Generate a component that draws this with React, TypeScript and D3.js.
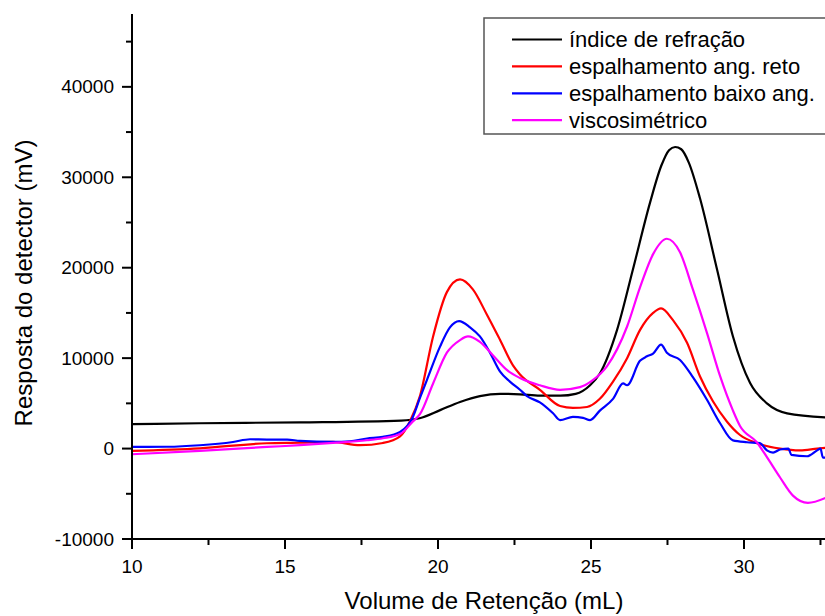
import React, { useEffect, useRef } from 'react'
import * as d3 from 'd3'

// [volume (mL), resposta (mV)]
const indiceRefracao: [number, number][] = [
  [10, 2700], [12.2, 2800], [15.5, 2900], [18.8, 3100], [19.4, 3350], [20.07, 4250],
  [20.72, 5150], [21.37, 5800], [22.03, 6050], [22.68, 6000], [23.33, 5850], [24.0, 5850],
  [24.5, 6050], [24.97, 7000], [25.29, 8300], [25.85, 13100], [26.37, 19800], [26.93, 27200],
  [27.3, 31300], [27.55, 33000], [27.75, 33350], [27.95, 33100], [28.2, 31600], [28.56, 27700],
  [29.12, 19800], [29.64, 12400], [30.2, 7250], [30.75, 5000], [31.41, 3900], [32.7, 3450],
]

const espalhamentoReto: [number, number][] = [
  [10.0, -250], [12.22, 30], [14.41, 590], [15.49, 650], [16.57, 730], [17.45, 370],
  [18.2, 620], [18.76, 1350], [19.08, 3000], [19.41, 5800], [19.84, 12400], [20.29, 17300],
  [20.72, 18700], [21.14, 17600], [21.6, 14800], [22.03, 12000], [22.45, 9200], [22.68, 8200],
  [23.33, 6500], [23.99, 4700], [24.41, 4500], [24.87, 4600], [25.29, 5500], [25.72, 7400],
  [26.18, 10000], [26.6, 13100], [27.03, 15000], [27.29, 15500], [27.68, 14200], [28.14, 11700],
  [28.56, 8000], [28.99, 5200], [29.44, 3000], [29.87, 1500], [30.42, 600], [31.18, 0],
  [31.83, -200], [32.39, 0], [32.7, 100],
]

const espalhamentoBaixo: [number, number][] = [
  [10.0, 180], [11.14, 200], [12.22, 370], [13.3, 730], [13.86, 1030], [14.41, 1000],
  [15.07, 1000], [15.49, 840], [16.57, 730], [17.12, 810], [17.68, 1110], [18.2, 1290],
  [18.76, 1840], [19.18, 3500], [19.41, 5600], [19.64, 7600], [20.07, 11300], [20.39, 13400],
  [20.69, 14100], [21.05, 13400], [21.37, 12400], [21.7, 10600], [22.03, 8500], [22.35, 7400],
  [22.68, 6500], [22.91, 5800], [23.33, 5100], [23.76, 3900], [23.99, 3150], [24.41, 3500],
  [24.74, 3400], [24.97, 3150], [25.29, 4200], [25.72, 5500], [26.05, 7200], [26.18, 7000],
  [26.6, 9700], [26.83, 10200], [27.03, 10500], [27.29, 11500], [27.48, 10600], [27.91, 9800],
  [28.33, 7900], [28.79, 5400], [29.22, 2800], [29.64, 900], [30.1, 700], [30.52, 600],
  [30.75, -200], [30.95, -450], [31.18, -100], [31.45, 0], [31.55, -700], [32.06, -850],
  [32.39, -200], [32.5, 0], [32.58, -1000], [32.7, -1000],
]

const viscosimetrico: [number, number][] = [
  [10.0, -630], [12.22, -260], [14.41, 180], [15.49, 370], [16.57, 620], [17.68, 920],
  [18.2, 1140], [18.76, 1600], [19.18, 3000], [19.41, 3800], [19.84, 7200], [20.29, 10600],
  [20.72, 12000], [20.98, 12400], [21.37, 11800], [21.8, 10300], [22.25, 8700], [22.68, 7800],
  [23.33, 7000], [23.99, 6500], [24.64, 6800], [25.07, 7600], [25.52, 9100], [26.18, 13500],
  [26.6, 17800], [27.03, 21500], [27.48, 23200], [27.91, 21700], [28.33, 17600], [28.79, 12800],
  [29.22, 8000], [29.64, 4200], [29.87, 2500], [30.42, 700], [30.75, -950], [31.18, -3200],
  [31.6, -5200], [32.09, -6000], [32.7, -5400],
]

const seriesNames = ['índice de refração', 'espalhamento ang. reto', 'espalhamento baixo ang.', 'viscosimétrico']
const seriesColors = ['#000000', '#ff0000', '#0000ff', '#ff00ff']
const xTicks = [10, 15, 20, 25, 30]
const xMinorTicks = [12.5, 17.5, 22.5, 27.5, 32.5]
const yTicks = [-10000, 0, 10000, 20000, 30000, 40000]
const yMinorTicks = [-5000, 5000, 15000, 25000, 35000, 45000]

const w = 825
const h = 616

export default function App() {
  const ref = useRef<SVGSVGElement>(null)

  useEffect(() => {
    const svg = d3.select(ref.current)
    const font = 'Liberation Sans, Arial, sans-serif'

    const x = d3.scaleLinear().domain([10, 32.7]).range([132, 826.6])
    const y = d3.scaleLinear().domain([-10000, 48000]).range([539, 14.5])

    svg.append('defs').append('clipPath').attr('id', 'plotclip')
      .append('rect').attr('x', 132).attr('y', 10).attr('width', 700).attr('height', 529)

    // lines
    const line = d3.line<[number, number]>()
      .x(d => x(d[0]))
      .y(d => y(d[1]))
      .curve(d3.curveMonotoneX)

    const allSeries = [indiceRefracao, espalhamentoReto, espalhamentoBaixo, viscosimetrico]
    const g = svg.append('g').attr('clip-path', 'url(#plotclip)')
    allSeries.forEach((s, i) => {
      g.append('path')
        .datum(s)
        .attr('d', line)
        .attr('fill', 'none')
        .attr('stroke', seriesColors[i])
        .attr('stroke-width', 2.2)
        .attr('stroke-linejoin', 'round')
    })

    // x axis
    svg.append('line')
      .attr('x1', 131).attr('x2', 825).attr('y1', y(-10000)).attr('y2', y(-10000))
      .attr('stroke', '#000').attr('stroke-width', 2)
    xTicks.forEach(t => {
      svg.append('line').attr('x1', x(t)).attr('x2', x(t))
        .attr('y1', y(-10000)).attr('y2', y(-10000) + 10)
        .attr('stroke', '#000').attr('stroke-width', 2)
      svg.append('text').attr('x', x(t)).attr('y', 573)
        .attr('text-anchor', 'middle').attr('font-family', font).attr('font-size', 19)
        .text(t)
    })
    xMinorTicks.forEach(t => {
      svg.append('line').attr('x1', x(t)).attr('x2', x(t))
        .attr('y1', y(-10000)).attr('y2', y(-10000) + 6)
        .attr('stroke', '#000').attr('stroke-width', 2)
    })

    // y axis
    svg.append('line')
      .attr('x1', 132).attr('x2', 132).attr('y1', 14).attr('y2', y(-10000) + 1)
      .attr('stroke', '#000').attr('stroke-width', 2)
    yTicks.forEach(t => {
      svg.append('line').attr('x1', 122).attr('x2', 132)
        .attr('y1', y(t)).attr('y2', y(t))
        .attr('stroke', '#000').attr('stroke-width', 2)
      svg.append('text').attr('x', 114).attr('y', y(t) + 6.5)
        .attr('text-anchor', 'end').attr('font-family', font).attr('font-size', 19)
        .text(t)
    })
    yMinorTicks.forEach(t => {
      svg.append('line').attr('x1', 126).attr('x2', 132)
        .attr('y1', y(t)).attr('y2', y(t))
        .attr('stroke', '#000').attr('stroke-width', 2)
    })

    // axis titles
    svg.append('text').attr('x', 484).attr('y', 609)
      .attr('text-anchor', 'middle').attr('font-family', font).attr('font-size', 24)
      .text('Volume de Retenção (mL)')
    svg.append('text')
      .attr('transform', 'translate(32, 283) rotate(-90)')
      .attr('text-anchor', 'middle').attr('font-family', font).attr('font-size', 24)
      .text('Resposta do detector (mV)')

    // legend
    const legend = svg.append('g')
    legend.append('rect')
      .attr('x', 484).attr('y', 18).attr('width', 360).attr('height', 116)
      .attr('fill', '#fff').attr('stroke', '#555').attr('stroke-width', 1.5)
    seriesNames.forEach((name, i) => {
      const ly = 39.5 + i * 26.9
      legend.append('line').attr('x1', 512).attr('x2', 562).attr('y1', ly).attr('y2', ly)
        .attr('stroke', seriesColors[i]).attr('stroke-width', 2.2)
      legend.append('text').attr('x', 569).attr('y', ly + 7.5)
        .attr('font-family', font).attr('font-size', 22)
        .text(name)
    })

    return () => {
      svg.selectAll('*').remove()
    }
  }, [])

  return (
    <div>
      <svg
        ref={ref}
        width={w}
        height={h}
        style={{ position: 'absolute', left: 0, top: 0, background: '#fff' }}
      />
    </div>
  )
}
